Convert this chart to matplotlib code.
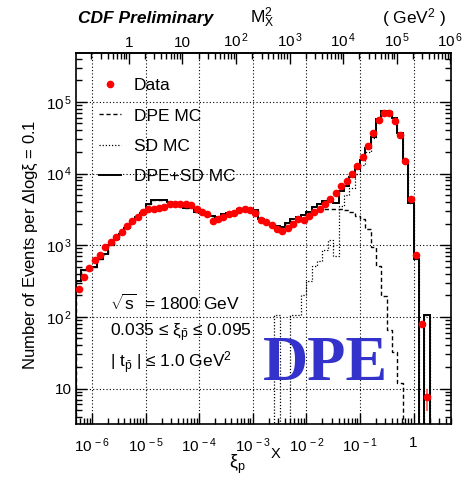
import numpy as np
import matplotlib
matplotlib.use("Agg")
import matplotlib.pyplot as plt
from matplotlib.ticker import (LogLocator, FixedLocator, FuncFormatter,
                               NullFormatter)
from matplotlib.lines import Line2D

plt.rcParams['font.family'] = ['Liberation Sans', 'DejaVu Sans']
plt.rcParams['mathtext.fontset'] = 'custom'
plt.rcParams['mathtext.rm'] = 'Liberation Sans'
plt.rcParams['mathtext.it'] = 'Liberation Sans'
plt.rcParams['mathtext.bf'] = 'Liberation Sans:bold'

# ---- binning: log10(xi) from -6.3 in steps of 0.1 ----
LOG_XI_MIN = -6.3
LOG_XI_MAX = 0.7
BIN_WIDTH = 0.1
N_BINS = 66
XI_PBAR_S = 2.06e5   # M_X^2 = xi * (xi_pbar * s)

# ---- data (events per bin) ----
data_counts = [245, 363, 479, 617, 741, 933, 1096, 1318, 1549, 1862,
               2188, 2512, 2951, 3236, 3236, 3311, 3428, 3715, 3802, 3802,
               3758, 3597, 3162, 2884, 2754, 2188, 2344, 2512, 2692, 2851,
               3090, 3162, 3126, 2818, 2213, 2089, 1905, 1698, 1585, 1738,
               1995, 2344, 2239, 2570, 2884, 3162, 3802, 4467, 5370, 6607,
               7943, 10000, 12880, 16980, 23990, 37150, 56230, 69180, 69180, 54950,
               34670, 15140, 4365, 741, 79, 7.5]
data_err_lo = [0] * 62 + [60, 25, 9, 2.7]
data_err_hi = [0] * 62 + [60, 25, 9, 2.5]

# ---- MC histograms ----
total_mc = [316, 447, 447, 490, 646, 759, 1000, 1202, 1445, 1738,
            2089, 2512, 2818, 3802, 4266, 4266, 4266, 3981, 3890, 3890,
            3311, 3311, 2951, 2818, 2692, 2570, 2512, 2754, 2818, 2818,
            3162, 3162, 3162, 3090, 2291, 2089, 1950, 1862, 1820, 2042,
            2291, 2455, 2630, 2951, 3388, 3715, 4074, 4169, 3890, 5754,
            6761, 8913, 11750, 15490, 22390, 32360, 57540, 74130, 72440, 58880,
            36310, 14790, 3890, 646, 0, 105]
dpe_mc = [316, 447, 447, 490, 646, 759, 1000, 1202, 1445, 1738,
          2089, 2512, 2818, 3802, 4266, 4266, 4266, 3981, 3890, 3890,
          3311, 3311, 2951, 2818, 2692, 2570, 2512, 2754, 2818, 2818,
          3162, 3162, 3162, 3090, 2291, 2089, 1950, 1757, 1820, 2042,
          2186, 2350, 2430, 2700, 2950, 3090, 3236, 3236, 3236, 3162,
          3090, 2884, 2570, 2291, 1660, 955, 513, 195, 65, 32,
          12, 0, 0, 0, 0, 0]
sd_mc = [0] * 37 + [105, 0, 0, 105, 105, 200, 316, 513, 603,
                    870, 1200, 708, 3550, 5000, 6300, 10000, 13200, 20000, 31000,
                    56200, 72400, 71000, 58800, 36300, 14790, 3890, 646, 0, 105]

# ---- tick decades ----
xi_tick_exps = [-6, -5, -4, -3, -2, -1, 0]
y_tick_exps = [1, 2, 3, 4, 5]
mx2_tick_exps = [0, 1, 2, 3, 4, 5, 6]

log_edges = LOG_XI_MIN + BIN_WIDTH * np.arange(N_BINS + 1)
edges = 10.0 ** log_edges
centers = 10.0 ** (log_edges[:-1] + BIN_WIDTH / 2)

fig = plt.figure(figsize=(4.75, 4.78), dpi=100)
ax = fig.add_axes([0.16, 0.113, 0.7895, 0.776])
ax.set_xscale('log')
ax.set_yscale('log')

ax.stairs(sd_mc, edges, baseline=1e-3, color='k', lw=0.9,
          linestyle=(0, (1, 1.5)), zorder=2)
ax.stairs(dpe_mc, edges, baseline=1e-3, color='k', lw=1.0,
          linestyle=(0, (3, 2)), zorder=3)
ax.stairs(total_mc, edges, baseline=1e-3, color='k', lw=1.4, zorder=4)
ax.errorbar(centers, data_counts, yerr=[data_err_lo, data_err_hi], fmt='o',
            color='red', ms=4.5, ecolor='#ff5555', elinewidth=1.2, capsize=0,
            zorder=5)

ax.set_xlim(10 ** LOG_XI_MIN, 10 ** LOG_XI_MAX)
ax.set_ylim(3.2, 4.8e5)

# ticks
ax.xaxis.set_major_locator(FixedLocator(10.0 ** np.array(xi_tick_exps)))
ax.xaxis.set_minor_locator(LogLocator(base=10, subs=np.arange(2, 10), numticks=20))
ax.yaxis.set_major_locator(FixedLocator(10.0 ** np.array(y_tick_exps)))
ax.yaxis.set_minor_locator(LogLocator(base=10, subs=np.arange(2, 10), numticks=20))
ax.xaxis.set_minor_formatter(NullFormatter())
ax.yaxis.set_minor_formatter(NullFormatter())


def fmt_x(v, pos):
    e = int(round(np.log10(v)))
    if e == 0:
        return '1'
    return r'$10^{\,%d}$' % e


def fmt_y(v, pos):
    e = int(round(np.log10(v)))
    if e == 1:
        return '10'
    return r'$10^{\,%d}$' % e


def fmt_top(v, pos):
    e = int(round(np.log10(v)))
    if e == 0:
        return '1'
    if e == 1:
        return '10'
    return r'$10^{\,%d}$' % e


ax.xaxis.set_major_formatter(FuncFormatter(fmt_x))
ax.yaxis.set_major_formatter(FuncFormatter(fmt_y))
ax.tick_params(which='both', direction='in', top=False, right=True,
               labelsize=11, width=1.0)
ax.tick_params(which='major', length=8)
ax.tick_params(which='minor', length=4)
ax.tick_params(axis='x', pad=9)
ax.tick_params(axis='y', pad=3)

sec = ax.secondary_xaxis('top', functions=(lambda x: x * XI_PBAR_S,
                                           lambda m: m / XI_PBAR_S))
sec.set_xscale('log')
sec.xaxis.set_major_locator(FixedLocator(10.0 ** np.array(mx2_tick_exps)))
sec.xaxis.set_minor_locator(LogLocator(base=10, subs=np.arange(2, 10), numticks=20))
sec.xaxis.set_major_formatter(FuncFormatter(fmt_top))
sec.xaxis.set_minor_formatter(NullFormatter())
sec.tick_params(which='both', direction='in', labelsize=11, width=1.0)
sec.tick_params(which='major', length=8, pad=2)
sec.tick_params(which='minor', length=4)

for s in ax.spines.values():
    s.set_linewidth(1.2)
sec.spines['top'].set_linewidth(1.2)

ax.grid(True, which='major', linestyle=(0, (1, 2)), color='k', lw=0.8)

ax.set_ylabel(r'Number of Events per $\Delta$log$\xi$ = 0.1', fontsize=12)
ax.yaxis.set_label_coords(-0.096, 0.482)

fig.text(0.5, 1 - 464 / 478, r'$\xi_{p}$', fontsize=13, ha='center', va='center')
fig.text(276 / 475, 1 - 454 / 478, 'X', fontsize=10.5, ha='center', va='center')

# legend
handles = [Line2D([], [], marker='o', color='red', ls='none', ms=4.5),
           Line2D([], [], color='k', lw=1.0, linestyle=(0, (3, 2))),
           Line2D([], [], color='k', lw=0.9, linestyle=(0, (1, 1.5))),
           Line2D([], [], color='k', lw=1.4)]
labels = ['Data', 'DPE MC', 'SD MC', 'DPE+SD MC']
ax.legend(handles, labels, loc='upper left', bbox_to_anchor=(0.061, 0.932),
          frameon=False, fontsize=12.5, handlelength=1.25, handletextpad=0.75,
          labelspacing=0.86, borderpad=0, borderaxespad=0)

# annotations
tx = (110 - 76) / 375
ax.text(tx, (424 - 303) / 371, r'$\sqrt{s}$  = 1800 GeV', transform=ax.transAxes,
        fontsize=12.5, va='center', ha='left')
ax.text(tx, (424 - 333) / 371, r'0.035 ≤ $\xi_{\bar{p}}$ ≤ 0.095', transform=ax.transAxes,
        fontsize=12.5, va='center', ha='left')
ax.text(tx, (424 - 363) / 371, r'| $t_{\bar{p}}$ | ≤ 1.0 GeV$^{2}$', transform=ax.transAxes,
        fontsize=12.5, va='center', ha='left')
ax.text((263 - 76) / 375, (424 - 380) / 371, 'DPE', transform=ax.transAxes,
        fontsize=45, fontweight='bold', family='Liberation Serif',
        color='#3333cc', ha='left', va='baseline')

# header
fig.text(78 / 475, 1 - 18 / 478, 'CDF Preliminary', fontsize=12.5,
         fontweight='bold', fontstyle='italic', ha='left', va='center')
fig.text(250 / 475, 1 - 18 / 478, r'M$_{X}^{2}$', fontsize=12.5, ha='left', va='center')
fig.text(382 / 475, 1 - 18 / 478, r'( GeV$^{2}$ )', fontsize=12.5, ha='left', va='center')

fig.savefig('out.png', dpi=100)
